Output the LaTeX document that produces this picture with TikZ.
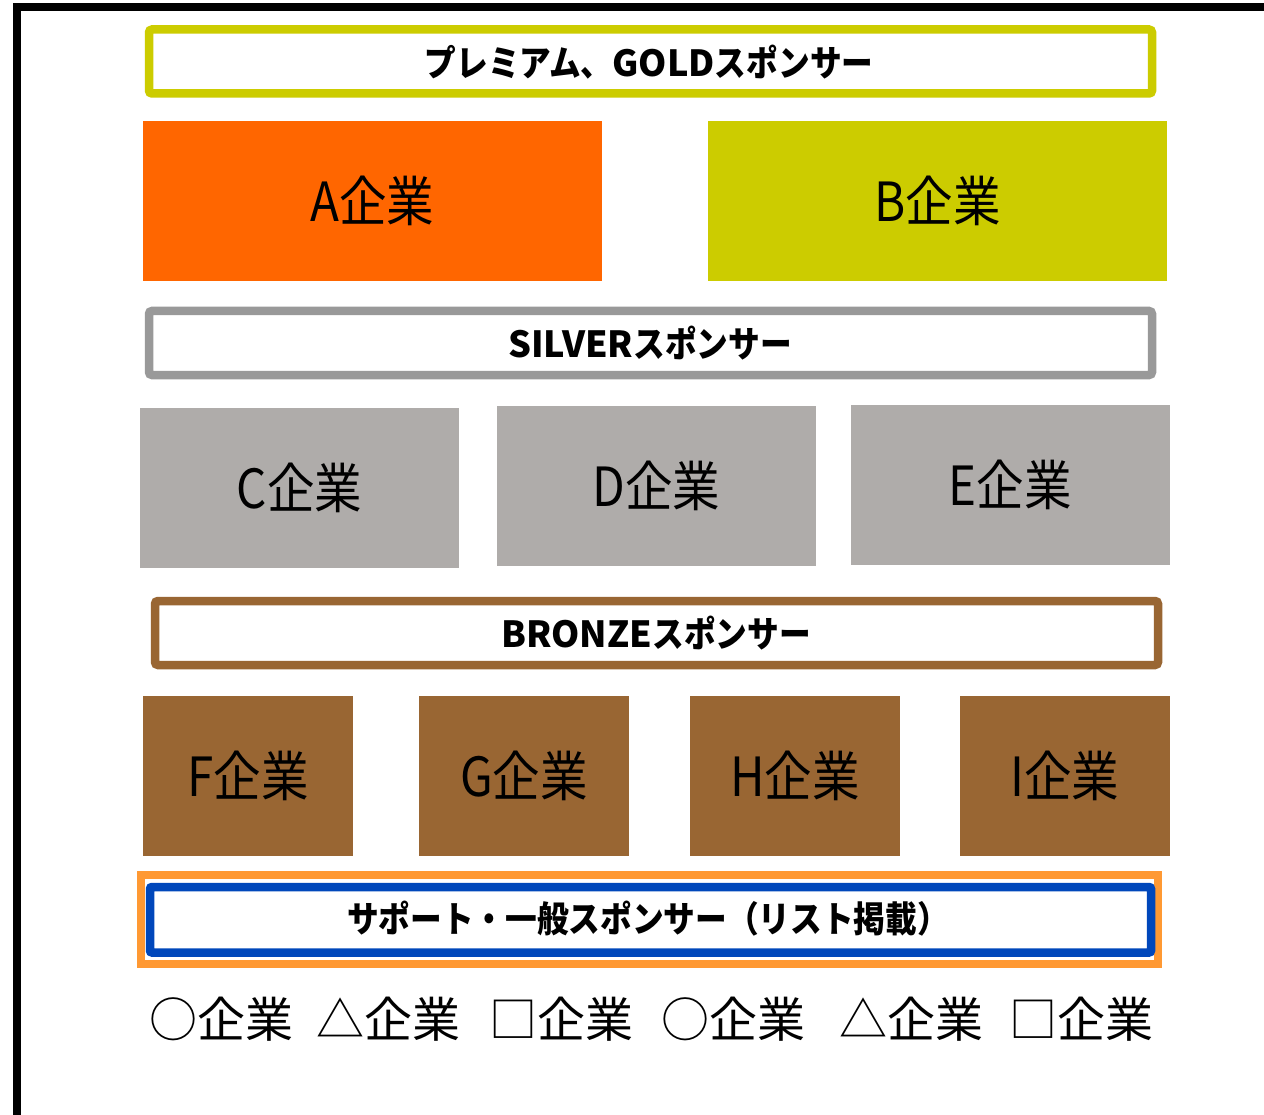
\documentclass[tikz,border=0pt]{standalone}
\usepackage{fontspec}
\newfontfamily\jp[FakeStretch=0.88]{Noto Sans CJK JP}
\newfontfamily\jpw{Noto Sans CJK JP}
\newcommand{\lat}[1]{{\jpw\bfseries #1}}
\definecolor{cOrange}{HTML}{FF6600}
\definecolor{cYellow}{HTML}{CCCC00}
\definecolor{cGray}{HTML}{AFACAA}
\definecolor{cSilver}{HTML}{999999}
\definecolor{cBrown}{HTML}{996633}
\definecolor{cBlue}{HTML}{0047BB}
\definecolor{cLightOrange}{HTML}{FF9933}
\begin{document}
\begin{tikzpicture}[x=1pt,y=-1pt,
  tier/.style={draw, line width=8.5pt, rounded corners=3pt, fill=white, inner sep=0pt,
    minimum width=1003pt, minimum height=64pt},
  tiertext/.style={inner sep=0pt, font=\jp\bfseries\fontsize{36}{42}\selectfont},
  firm/.style={inner sep=0pt, minimum height=160pt, text=black,
    font=\jp\fontsize{54}{60}\selectfont},
  big/.style={firm, minimum width=459pt},
  mid/.style={firm, minimum width=319pt, fill=cGray},
  small/.style={firm, minimum width=210pt, fill=cBrown},
  listed/.style={inner sep=0pt, font=\jpw\fontsize{48}{54}\selectfont}]
\useasboundingbox (0,0) rectangle (1264,1115);
\fill[white] (0,0) rectangle (1264,1115);
\coordinate (fb) at (17,1140);
\coordinate (fc) at (17,7);
\coordinate (fr) at (1300,7);
\draw[line width=8pt] (fb) -- (fc) -- (fr);

% premium / gold
\node[tier, draw=cYellow] (gold) at (650.5,61.5) {};
\node[tiertext] (goldt) at (649,62) {プレミアム、\lat{GOLD}スポンサー};
\node[big, fill=cOrange] (A) at (372.5,201) {\raisebox{3pt}{A企業}};
\node[big, fill=cYellow] (B) at (937.5,201) {\raisebox{3pt}{B企業}};

% silver
\node[tier, draw=cSilver] (silver) at (650.5,343) {};
\node[tiertext] (silvert) at (650,343) {\lat{SILVER}スポンサー};
\node[mid] (C) at (299.5,488) {\raisebox{3pt}{C企業}};
\node[mid] (D) at (656.5,486) {\raisebox{3pt}{D企業}};
\node[mid] (E) at (1010.5,485) {\raisebox{3pt}{E企業}};

% bronze
\node[tier, draw=cBrown] (bronze) at (656.5,633) {};
\node[tiertext] (bronzet) at (656,633) {\lat{BRONZE}スポンサー};
\node[small] (F) at (248,776) {\raisebox{3pt}{F企業}};
\node[small] (G) at (524,776) {\raisebox{3pt}{G企業}};
\node[small] (H) at (795,776) {\raisebox{3pt}{H企業}};
\node[small] (I) at (1065,776) {\raisebox{3pt}{I企業}};

% support
\node[draw=cLightOrange, line width=8pt, inner sep=0pt, minimum width=1017.5pt, minimum height=89pt] (supo) at (649.25,919.5) {};
\node[draw=cBlue, line width=8.5pt, rounded corners=2pt, fill=white, inner sep=0pt, minimum width=1001pt, minimum height=65.5pt] (supi) at (650.5,919.75) {};
\node[tiertext] (supt) at (648,919) {サポート・一般スポンサー（リスト掲載）};

% listed companies
\foreach \n/\x/\t in {l1/221.5/○, l2/388/△, l3/561.5/□, l4/733/○, l5/911/△, l6/1081/□}{
  \node[listed] (\n) at (\x,1019) {\t 企業};
}
\end{tikzpicture}
\end{document}
